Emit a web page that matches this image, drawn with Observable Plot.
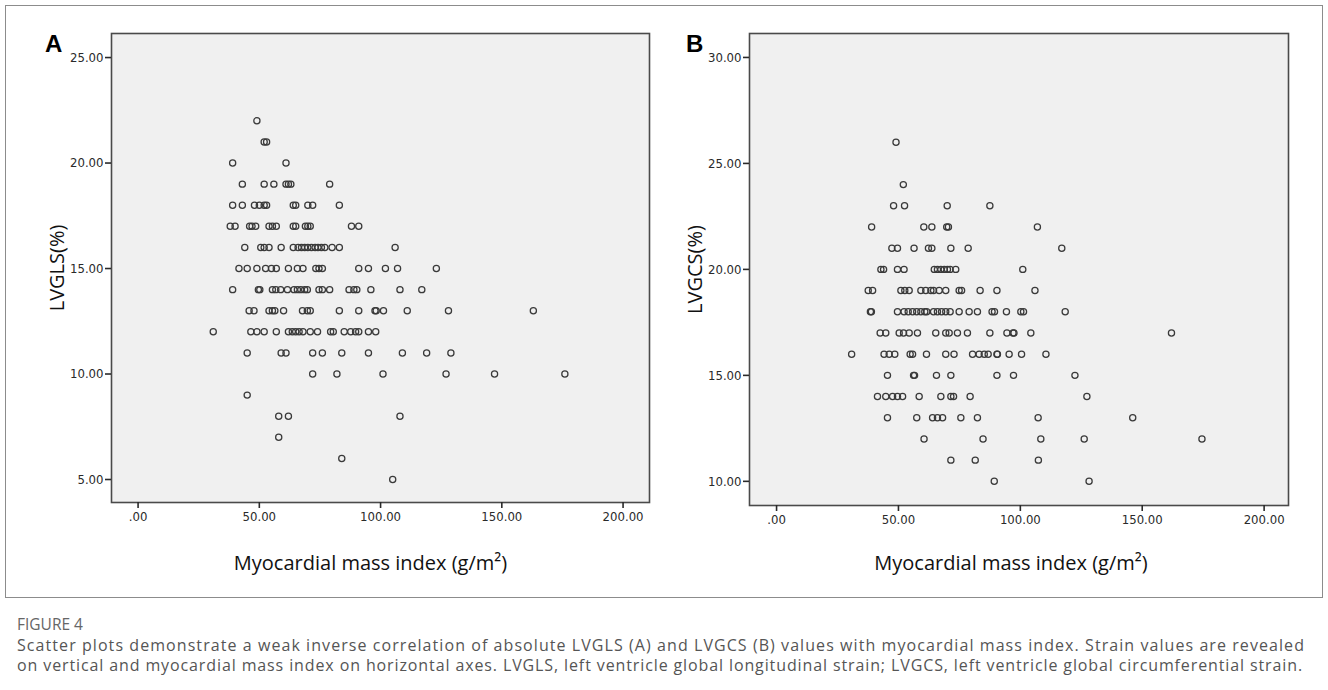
<!DOCTYPE html>
<html>
<head>
<meta charset="utf-8">
<script src="https://cdn.jsdelivr.net/npm/d3@7"></script>
<script src="https://cdn.jsdelivr.net/npm/@observablehq/plot@0.6"></script>
<style>
  body { margin: 0; background: #fff; }
  #root { position: relative; width: 1328px; height: 690px; overflow: hidden; background: #fff; }
  .panel { position: absolute; top: 0; }
  .tag { position: absolute; font-family: "Liberation Sans", Arial, sans-serif; font-weight: bold; font-size: 24px; line-height: 24px; color: #000; }
  #box { position: absolute; left: 5px; top: 5px; width: 1316px; height: 591px; border: 1.5px solid #8c8c8c; }
  #figlabel { position: absolute; left: 17px; top: 614px; line-height: 20px; font-family: "Open Sans", sans-serif; font-size: 15.5px; color: #666; }
  .capline { position: absolute; left: 17px; line-height: 19px; font-family: "Open Sans", sans-serif; font-size: 16px; color: #555; white-space: nowrap; }
</style>
</head>
<body>
<div id="root">
  <div id="box"></div>
  <div class="tag" id="tagA" style="left:45px;top:32px;"></div>
  <div class="tag" id="tagB" style="left:686px;top:32px;"></div>
  <div id="figlabel"></div>
  <div class="capline" id="cap1" style="top:636px;"></div>
  <div class="capline" id="cap2" style="top:656px;"></div>
</div>
<script>
// ---------- data ----------
const panelTags = ["A", "B"];
const xTitle = "Myocardial mass index (g/m²)";
const yTitleA = "LVGLS(%)";
const yTitleB = "LVGCS(%)";
const xTicks = [0, 50, 100, 150, 200];
const yTicksA = [5, 10, 15, 20, 25];
const yTicksB = [10, 15, 20, 25, 30];
const figureLabel = "FIGURE 4";
const captionLines = [
  "Scatter plots demonstrate a weak inverse correlation of absolute LVGLS (A) and LVGCS (B) values with myocardial mass index. Strain values are revealed",
  "on vertical and myocardial mass index on horizontal axes. LVGLS, left ventricle global longitudinal strain; LVGCS, left ventricle global circumferential strain."
];

// LVGLS (%) rows: [strain value, myocardial mass index values]
const lvglsRows = [
  [22, [49]],
  [21, [52, 53]],
  [20, [39, 61]],
  [19, [43, 52, 56, 61, 62, 63, 79]],
  [18, [39, 43, 48, 50, 52, 53, 64, 65, 70, 72, 83]],
  [17, [38, 40, 46, 47, 48.5, 54, 55.4, 57, 64, 65, 69, 70, 71, 88, 91]],
  [16, [44, 50.6, 52, 54, 59, 64, 66, 67.4, 68.7, 70, 71.5, 73, 74.2, 75.6, 77, 80, 83, 106]],
  [15, [41.6, 45, 49, 52.6, 55, 57, 62, 65.7, 68, 73.3, 74.6, 76, 91, 95, 102, 107, 123]],
  [14, [39, 49.6, 50.2, 55.4, 56.8, 58.8, 61.6, 64.3, 65.7, 67.1, 68.7, 69.8, 74.6, 76, 79, 87, 89, 90.2, 96, 108, 117]],
  [13, [45.8, 47.8, 54, 55.4, 56.4, 60, 67.8, 69.8, 71, 83, 91, 97.7, 98.2, 101.2, 111, 128, 163]],
  [12, [31, 46.5, 49, 52, 57, 62, 63.6, 65, 66.4, 68, 71, 74, 79.4, 80.5, 85, 87.7, 89.7, 91, 95, 98]],
  [11, [45, 59, 61, 72, 76, 84, 95, 109, 119, 129]],
  [10, [72, 82, 101, 127, 147, 176]],
  [9, [45]],
  [8, [58, 62, 108]],
  [7, [58]],
  [6, [84]],
  [5, [105]]
];

// LVGCS (%) rows: [strain value, myocardial mass index values]
const lvgcsRows = [
  [26, [49]],
  [24, [52]],
  [23, [48, 52.5, 70, 87.5]],
  [22, [39, 60.4, 63.7, 69.8, 70.5, 107]],
  [21, [47.3, 49.6, 56.4, 62.3, 63.7, 71.5, 78.6, 117]],
  [20, [42.8, 43.9, 49.6, 52.3, 64.7, 66, 67.4, 68.8, 70.1, 71.2, 73.5, 101]],
  [19, [37.6, 39.4, 51, 52.6, 54.4, 59.2, 61.2, 63.3, 64.4, 66.7, 69.4, 74.9, 75.9, 83.5, 90.4, 106]],
  [18, [38.5, 38.9, 49.6, 52.3, 54, 55.8, 57.5, 59.2, 60.8, 61.6, 64.4, 66, 67.7, 69.4, 71.2, 74.9, 79, 82.4, 88.4, 89.4, 94.3, 100.2, 101.3, 118.4]],
  [17, [42.5, 44.8, 50.3, 52.1, 54.4, 57.8, 65.3, 69.4, 70.8, 74.2, 78.3, 87.5, 94.5, 97, 97.4, 104.3, 162]],
  [16, [30.8, 44.1, 46.2, 48.5, 54.8, 55.8, 61.5, 69.4, 72.8, 80.4, 83.1, 85.2, 86.8, 90.4, 90.6, 95.4, 100.5, 110.5]],
  [15, [45.5, 56.2, 56.6, 65.6, 71.5, 90.4, 97.2, 122.4]],
  [14, [41.4, 44.8, 47.6, 49.6, 51.7, 58.5, 67.4, 71.5, 72.6, 79.4, 127.3]],
  [13, [45.5, 57.5, 64, 66, 68.1, 75.6, 82.4, 107.3, 146.1]],
  [12, [60.5, 84.7, 108.4, 126.2, 174.5]],
  [11, [71.5, 81.5, 107.4]],
  [10, [89.3, 128.2]]
];

// ---------- build ----------
const toPoints = rows => rows.flatMap(([s, xs]) => xs.map(m => ({mmi: m, strain: s})));
const fmt = d => d === 0 ? ".00" : d.toFixed(2);
const narrow = "'Liberation Sans Narrow', 'DejaVu Sans Condensed', Arial, sans-serif";
const titleFont = "'Open Sans', 'Noto Sans', sans-serif";

function panel({rows, yTicks, yTitle, xDomain, yDomain, margins, titleDy, titleDx}) {
  return Plot.plot({
    width: 664,
    height: 600,
    ...margins,
    x: {domain: xDomain},
    y: {domain: yDomain},
    style: {background: "transparent", fontFamily: narrow, color: "#2a2a2a", overflow: "visible"},
    marks: [
      Plot.frame({fill: "#f0f0f0", stroke: "none"}),
      Plot.dot(toPoints(rows), {x: "mmi", y: "strain", r: 3.1, stroke: "#3a3a3a", strokeWidth: 1.25, fill: "none"}),
      Plot.frame({stroke: "#4a4a4a", strokeWidth: 1.6}),
      Plot.axisX({ticks: xTicks, tickFormat: fmt, tickSize: 6, tickPadding: 3, fontSize: 13, strokeWidth: 1.6, label: null}),
      Plot.axisY({ticks: yTicks, tickFormat: fmt, tickSize: 6, tickPadding: 2, fontSize: 13, strokeWidth: 1.6, label: null}),
      Plot.text([xTitle], {text: d => d, frameAnchor: "bottom", lineAnchor: "middle", textAnchor: "middle", dy: titleDy, dx: titleDx, fontSize: 20, fontFamily: titleFont, fill: "#111"}),
      Plot.text([yTitle], {text: d => d, frameAnchor: "left", lineAnchor: "middle", textAnchor: "middle", dx: -54, rotate: -90, fontSize: 20, fontFamily: titleFont, fill: "#111"})
    ]
  });
}

const plotA = panel({
  rows: lvglsRows, yTicks: yTicksA, yTitle: yTitleA,
  xDomain: [-10.96, 210.9], yDomain: [3.91, 26.14],
  margins: {marginLeft: 111, marginRight: 15, marginTop: 33, marginBottom: 98},
  titleDy: 61, titleDx: -10
});
const plotB = panel({
  rows: lvgcsRows, yTicks: yTicksB, yTitle: yTitleB,
  xDomain: [-11.1, 210.0], yDomain: [8.86, 31.13],
  margins: {marginLeft: 85, marginRight: 40, marginTop: 33, marginBottom: 95},
  titleDy: 58, titleDx: -8
});

const root = document.getElementById("root");
plotA.classList.add("panel"); plotA.style.left = "0px";
plotB.classList.add("panel"); plotB.style.left = "664px";
root.appendChild(plotA);
root.appendChild(plotB);

document.getElementById("tagA").textContent = panelTags[0];
document.getElementById("tagB").textContent = panelTags[1];
document.getElementById("figlabel").textContent = figureLabel;
// caption lines, each spread to the reference's line width
const capTargets = [1288, 1286];
["cap1", "cap2"].forEach((id, i) => {
  const el = document.getElementById(id);
  el.textContent = captionLines[i];
  const w = el.getBoundingClientRect().width;
  const extra = (capTargets[i] - w) / captionLines[i].length;
  el.style.letterSpacing = extra + "px";
});
</script>
</body>
</html>
